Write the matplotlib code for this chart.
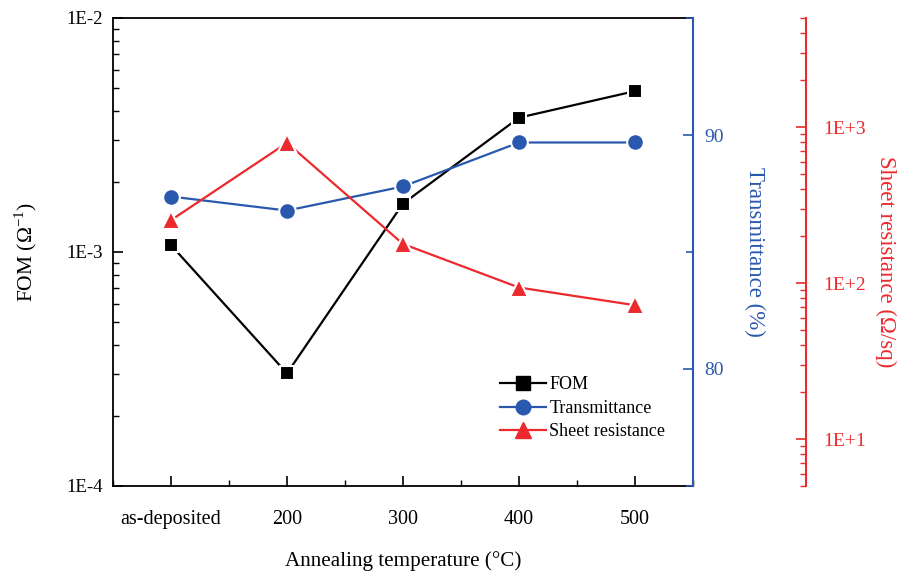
import math
import matplotlib
matplotlib.use("Agg")
import matplotlib.pyplot as plt
from matplotlib.ticker import FixedLocator, LogLocator, MultipleLocator, FuncFormatter, NullFormatter
from matplotlib.lines import Line2D

categories = ["as-deposited", "200", "300", "400", "500"]
fom = [1.07e-3, 3.03e-4, 1.61e-3, 3.75e-3, 4.87e-3]
transmittance = [87.37, 86.77, 87.80, 89.68, 89.68]
sheet_res = [253, 792, 178, 93.6, 72.1]

BLUE = "#2a58ae"
RED = "#ec2a2e"
plt.rcParams["font.family"] = ["Liberation Serif", "DejaVu Serif"]
plt.rcParams["mathtext.fontset"] = "custom"
plt.rcParams["mathtext.rm"] = "Liberation Serif"

fig = plt.figure(figsize=(8.99, 5.72), dpi=100)
ax = fig.add_axes([113/899, 1-486/572, 580/899, 468/572])
x = list(range(len(categories)))

lw = 1.6
l1, = ax.plot(x, fom, color="black", lw=lw, marker="s", ms=10.5,
              mec="white", mew=1.5, label="FOM", zorder=3)
ax.set_yscale("log")
ax.set_ylim(1e-4, 1e-2)
ax.set_xlim(-0.5, 4.5)
ax.set_xticks(x)
ax.set_xticklabels(categories)
ax.xaxis.set_minor_locator(FixedLocator([i + 0.5 for i in range(-1, 5)]))
ax.yaxis.set_major_locator(FixedLocator([1e-4, 1e-3, 1e-2]))
ax.yaxis.set_major_formatter(FuncFormatter(lambda v, p: "1E%d" % round(math.log10(v))))
ax.yaxis.set_minor_locator(LogLocator(base=10, subs=range(2, 10)))
ax.yaxis.set_minor_formatter(NullFormatter())
ax.tick_params(axis="both", which="major", direction="in", length=7, width=1.2, labelsize=13.5)
ax.tick_params(axis="both", which="minor", direction="in", length=4, width=1.0)
ax.tick_params(axis="x", which="major", pad=17, labelsize=14.5)
ax.tick_params(axis="y", which="major", pad=7)
ax.tick_params(axis="x", top=False, which="both")
for s in ax.spines.values():
    s.set_linewidth(1.3)
ax.set_ylabel("FOM (Ω$^{\\mathrm{-1}}$)", fontsize=15.5)
ax.yaxis.set_label_coords(-0.128, 0.5)
ax.set_xlabel("Annealing temperature (°C)", fontsize=15.2, labelpad=16)

ax2 = ax.twinx()
l2, = ax2.plot(x, transmittance, color=BLUE, lw=lw, marker="o", ms=12,
               mec="white", mew=1.5, label="Transmittance", zorder=3)
ax2.set_ylim(75, 95)
ax2.yaxis.set_major_locator(FixedLocator([80, 90]))
ax2.yaxis.set_minor_locator(MultipleLocator(5))
ax2.tick_params(axis="y", which="major", direction="in", length=7, width=1.2,
                colors=BLUE, labelsize=14, pad=8)
ax2.tick_params(axis="y", which="minor", direction="in", length=5, width=1.2, colors=BLUE)
ax2.spines["right"].set_color(BLUE)
ax2.spines["right"].set_linewidth(1.5)
for k in ["left", "top", "bottom"]:
    ax2.spines[k].set_visible(False)
ax2.set_ylabel("Transmittance (%)", fontsize=16.5, color=BLUE, rotation=-90)
ax2.yaxis.set_label_coords(1.124, 0.5)

ax3 = ax.twinx()
l3, = ax3.plot(x, sheet_res, color=RED, lw=lw, marker="^", ms=13,
               mec="white", mew=1.5, label="Sheet resistance", zorder=3)
ax3.set_yscale("log")
ax3.set_ylim(5, 5000)
ax3.spines["right"].set_position(("axes", 1.195))
ax3.spines["right"].set_color(RED)
ax3.spines["right"].set_linewidth(1.5)
for k in ["left", "top", "bottom"]:
    ax3.spines[k].set_visible(False)
ax3.yaxis.set_major_locator(FixedLocator([10, 100, 1000]))
ax3.yaxis.set_major_formatter(FuncFormatter(lambda v, p: "1E+%d" % round(math.log10(v))))
ax3.yaxis.set_minor_locator(LogLocator(base=10, subs=range(2, 10)))
ax3.yaxis.set_minor_formatter(NullFormatter())
ax3.tick_params(axis="y", which="major", direction="in", length=7, width=1.2,
                colors=RED, labelsize=14, pad=12)
ax3.tick_params(axis="y", which="minor", direction="in", length=4, width=1.0, colors=RED)
ax3.set_ylabel("Sheet resistance (Ω/sq)", fontsize=16.5, color=RED, rotation=-90)
ax3.yaxis.set_label_coords(1.350, 0.48)

handles = [
    Line2D([], [], color="black", lw=lw, marker="s", ms=9.5),
    Line2D([], [], color=BLUE, lw=lw, marker="o", ms=10.5),
    Line2D([], [], color=RED, lw=lw, marker="^", ms=12),
]
leg = ax3.legend(handles, ["FOM", "Transmittance", "Sheet resistance"],
                 loc="upper left", bbox_to_anchor=(0.668, 0.234), frameon=False,
                 fontsize=13, handlelength=2.5, handletextpad=0.2,
                 labelspacing=0.36, borderpad=0, borderaxespad=0)

fig.savefig("out.png", dpi=100)
